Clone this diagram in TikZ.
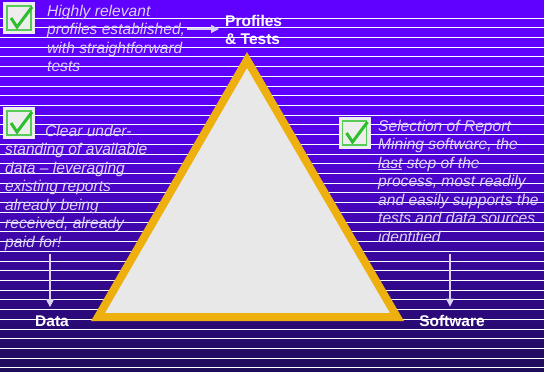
\documentclass[tikz,border=0pt]{standalone}
\usepackage{fontspec}
\setmainfont{Liberation Sans}
\usetikzlibrary{arrows.meta,positioning}
\definecolor{bgtop}{HTML}{6000FF}
\definecolor{bgbot}{HTML}{1E0C58}
\definecolor{lav}{HTML}{DAD2F4}
\definecolor{gold}{HTML}{EEB00E}
\definecolor{tri}{HTML}{E8E8E8}
\definecolor{tickgreen}{HTML}{2DBE2D}
\tikzstyle{stripe} = [white,line width=1pt]
\tikzstyle{note} = [text=lav,font=\fontsize{15.6}{18.5}\selectfont\itshape,align=left,inner sep=0,anchor=base west]
\tikzstyle{corner} = [text=white!95!lav,font=\fontsize{15.5}{18}\selectfont\bfseries,align=left,inner sep=0]
\tikzstyle{tickbox} = [fill=white!93!black,minimum size=32pt,inner sep=0]
\tikzstyle{tickframe} = [draw=tickgreen!80!white,line width=1.5pt]
\tikzstyle{tick} = [tickgreen,line width=3pt,line join=miter]
\tikzstyle{pointer} = [-{Triangle[length=8pt,width=8pt]},lav,line width=1.2pt]
\def \gap {9.72}

\begin{document}
\begin{tikzpicture}[x=1pt,y=-1pt]
      \fill[bgtop] (0,0) rectangle (544,91);
      \shade[top color=bgtop,bottom color=bgbot] (0,90) rectangle (544,372);
      \useasboundingbox (0,0) rectangle (544,372);
      % stripes
      \foreach \k in {0,...,36}
        \draw[stripe] (0,18+\k*\gap) -- (544,18+\k*\gap);
      % triangle
      \coordinate (apex) at (247,60);
      \coordinate (lcorner) at (98,317);
      \coordinate (rcorner) at (397,317);
      \draw[fill=tri,draw=gold,line width=8pt,line join=miter] (apex) -- (lcorner) -- (rcorner) -- cycle;
      % check boxes
      \foreach \n/\p in {t1/{19,18},t2/{19,123},t3/{354.5,133}} {
        \node[tickbox] (\n) at (\p) {};
        \draw[tickframe] ([shift={(-12,-12)}]\n.center) rectangle ([shift={(12,12)}]\n.center);
        \draw[tick] ([shift={(-8,0)}]\n.center) -- ([shift={(-2,9)}]\n.center) -- ([shift={(13,-11)}]\n.center);
      }
      % notes (base = last line)
      \node[note] (n1) at (47,71.5) {Highly relevant\\profiles established,\\with straightforward\\tests};
      \node[note] (n2) at (5,247) {\hspace*{40pt}Clear under-\\standing of available\\data -- leveraging\\existing reports\\already being\\received, already\\paid for!};
      \node[note] (n3) at (378,242) {Selection of Report\\Mining software, the\\\underline{last} step of the\\process, most readily\\and easily supports the\\tests and data sources\\identified};
      % corners
      \node[corner,anchor=base west] (profiles) at (225,44) {Profiles\\\& Tests};
      \node[corner,anchor=base] (data) at (52,326) {Data};
      \node[corner,anchor=base] (software) at (452,326) {Software};
      % pointers
      \coordinate (p1) at (187,29);
      \coordinate (p2) at (50,254);
      \coordinate (p3) at (450,254);
      \draw[pointer,shorten >=6pt] (p1) -- (p1 -| profiles.west);
      \draw[pointer,shorten >=8pt] (p2) -- (p2 |- data.north);
      \draw[pointer,shorten >=8pt] (p3) -- (p3 |- software.north);
\end{tikzpicture}
\end{document}
